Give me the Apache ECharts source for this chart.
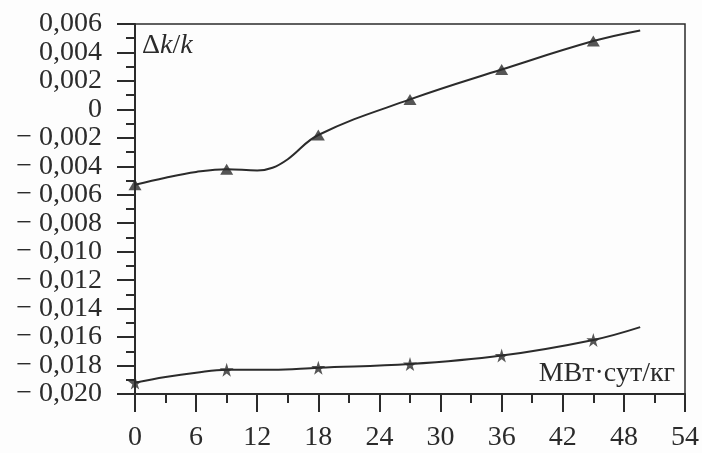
<!DOCTYPE html>
<html><head><meta charset="utf-8">
<script src="https://cdn.jsdelivr.net/npm/echarts@6/dist/echarts.min.js"></script>
<style>html,body{margin:0;padding:0;background:#fdfdfd}#c{width:702px;height:453px}</style>
</head><body><div id="c"></div>
<script>
// Data
const markerX = [0, 9, 18, 27, 36, 45];
const upperMarkers = [-0.0053, -0.0042, -0.0018, 0.0007, 0.0028, 0.0048];
const lowerMarkers = [-0.0192, -0.0183, -0.01815, -0.0179, -0.0173, -0.0162];
const upperCurveX = [0, 3, 6, 9, 12, 13.5, 15, 18, 27, 36, 45, 49.6];
const upperCurveY = [-0.0053, -0.0048, -0.0044, -0.0042, -0.0043, -0.0041, -0.0035, -0.0018, 0.0007, 0.0028, 0.0048, 0.00555];
const lowerCurveX = [0, 3, 6, 9, 13.5, 18, 27, 36, 45, 49.6];
const lowerCurveY = [-0.0192, -0.0188, -0.0185, -0.0183, -0.0183, -0.01815, -0.0179, -0.0173, -0.0162, -0.0153];
const xTickLabels = ['0','6','12','18','24','30','36','42','48','54'];
const yTickLabels = ['− 0,020','− 0,018','− 0,016','− 0,014','− 0,012','− 0,010','− 0,008','− 0,006','− 0,004','− 0,002','0','0,002','0,004','0,006'];

const ink = '#2b2b2b';
const font = '"Liberation Serif", "Times New Roman", serif';
const zip = (a, b) => a.map((v, i) => [v, b[i]]);
const star = 'path://M50,0 L61,35 L98,35 L68,57 L79,91 L50,70 L21,91 L32,57 L2,35 L39,35 Z';

const chart = echarts.init(document.getElementById('c'), null, {renderer: 'canvas'});
chart.setOption({
  backgroundColor: '#fdfdfd',
  animation: false,
  grid: {left: 135, right: 16, top: 24, bottom: 59, show: true, borderColor: ink, borderWidth: 1.5},
  xAxis: {
    type: 'value', min: 0, max: 54, interval: 6,
    axisLine: {show: true, onZero: false, lineStyle: {color: ink, width: 2}},
    axisTick: {show: true, inside: false, length: 18, lineStyle: {color: ink, width: 2}},
    minorTick: {show: true, splitNumber: 2, length: 9, lineStyle: {color: ink, width: 2}},
    splitLine: {show: false},
    axisLabel: {color: ink, fontFamily: font, fontSize: 28, margin: 30,
      formatter: v => xTickLabels[Math.round(v / 6)]}
  },
  yAxis: {
    type: 'value', min: -0.02, max: 0.006, interval: 0.002,
    axisLine: {show: true, onZero: false, lineStyle: {color: ink, width: 2}},
    axisTick: {show: true, inside: false, length: 18, lineStyle: {color: ink, width: 2}},
    minorTick: {show: true, splitNumber: 2, length: 9, lineStyle: {color: ink, width: 2}},
    splitLine: {show: false},
    axisLabel: {color: ink, fontFamily: font, fontSize: 28, margin: 33,
      formatter: v => yTickLabels[Math.round((v + 0.02) / 0.002)]}
  },
  graphic: [
    {type: 'text', left: 142, top: 32, style: {
      text: '{a|Δ}{b|k}{a|/}{b|k}',
      rich: {a: {fontFamily: font, fontSize: 28, fill: ink}, b: {fontFamily: font, fontSize: 28, fontStyle: 'italic', fill: ink}}
    }},
    {type: 'text', right: 27, top: 360, style: {text: 'МВт·сут/кг', fontFamily: font, fontSize: 28, fill: ink}}
  ],
  series: [
    {type: 'line', data: zip(upperCurveX, upperCurveY), smooth: 0.4, showSymbol: false, lineStyle: {color: ink, width: 2}},
    {type: 'line', data: zip(lowerCurveX, lowerCurveY), smooth: 0.4, showSymbol: false, lineStyle: {color: ink, width: 2}},
    {type: 'scatter', data: zip(markerX, upperMarkers), symbol: 'triangle', symbolSize: [13, 11], itemStyle: {color: ink}},
    {type: 'scatter', data: zip(markerX, lowerMarkers), symbol: star, symbolSize: 14, itemStyle: {color: ink}}
  ]
});
</script></body></html>
